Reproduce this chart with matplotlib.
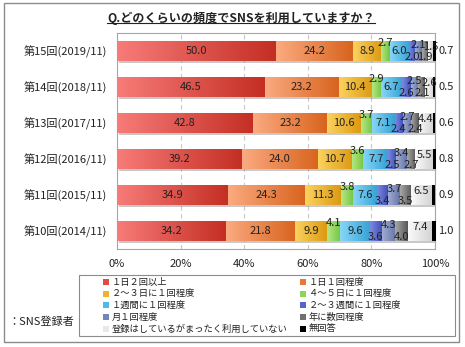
import matplotlib
matplotlib.use('Agg')
import matplotlib.pyplot as plt
import matplotlib.patheffects as pe
from matplotlib.colors import LinearSegmentedColormap
from matplotlib.patches import Rectangle
from matplotlib.lines import Line2D
import numpy as np

plt.rcParams['font.family'] = ['Noto Sans CJK JP', 'DejaVu Sans']

title = 'Q.どのくらいの頻度でSNSを利用していますか？'
rounds = ['第15回(2019/11)', '第14回(2018/11)', '第13回(2017/11)',
          '第12回(2016/11)', '第11回(2015/11)', '第10回(2014/11)']
categories = ['１日２回以上', '１日１回程度', '２～３日に１回程度', '４～５日に１回程度',
              '１週間に１回程度', '２～３週間に１回程度', '月１回程度', '年に数回程度',
              '登録はしているがまったく利用していない', '無回答']

r15 = [50.0, 24.2, 8.9, 2.7, 6.0, 2.0, 2.1, 1.9, 1.5, 0.7]
r14 = [46.5, 23.2, 10.4, 2.9, 6.7, 2.6, 2.5, 2.1, 2.6, 0.5]
r13 = [42.8, 23.2, 10.6, 3.7, 7.1, 2.4, 2.7, 2.4, 4.4, 0.6]
r12 = [39.2, 24.0, 10.7, 3.6, 7.7, 2.5, 3.4, 2.7, 5.5, 0.8]
r11 = [34.9, 24.3, 11.3, 3.8, 7.6, 3.4, 3.7, 3.5, 6.5, 0.9]
r10 = [34.2, 21.8, 9.9, 4.1, 9.6, 3.6, 4.3, 4.0, 7.4, 1.0]
values = [r15, r14, r13, r12, r11, r10]

# gradient (left, right) for each segment, plus a flat colour for the legend
grad_colors = [('#f77b78', '#c42f24'), ('#fbaa80', '#d8641e'), ('#fbd25e', '#dc9a12'),
               ('#b4e880', '#74c443'), ('#86d6f6', '#35a2d6'), ('#7c8ae0', '#4052b8'),
               ('#a0acd4', '#6676a8'), ('#a8a8a8', '#585858'), ('#fafafa', '#d4d4d4'),
               ('#000000', '#000000')]
flat_colors = ['#e04a45', '#e8773a', '#f0b030', '#8fd45a', '#4dbbe8', '#5565c8',
               '#7585b8', '#707070', '#e8e8e8', '#000000']
# vertical shift of the value labels (in bar units, negative = up)
label_shift = [0, 0, 0, -0.22, 0, 0.18, -0.17, 0.18, -0.12, 0]

W, H = 465, 347
fig = plt.figure(figsize=(W / 100, H / 100), dpi=100)


def fx(px):
    return px / W


def fy(py):
    return 1 - py / H


ax = fig.add_axes([fx(117), fy(249), fx(435) - fx(117), fy(33) - fy(249)])

bar_h = 0.55
grad = np.linspace(0, 1, 64).reshape(1, -1)
for i, vals in enumerate(values):
    left = 0
    for j, v in enumerate(vals):
        cmap = LinearSegmentedColormap.from_list('c%d' % j, grad_colors[j])
        bar = ax.barh(i, v, left=left, height=bar_h, color=flat_colors[j], lw=0, zorder=2,
                      path_effects=[pe.SimplePatchShadow(offset=(1.2, -1.8),
                                                         shadow_rgbFace='#888888', alpha=0.45),
                                    pe.Normal()])[0]
        im = ax.imshow(grad, cmap=cmap, extent=[left, left + v, i + bar_h / 2, i - bar_h / 2],
                       aspect='auto', zorder=3, interpolation='bilinear')
        im.set_clip_path(bar)
        if j == len(vals) - 1:
            ax.text(103.5, i, '%.1f' % v, ha='center', va='center', fontsize=8,
                    color='#222222', zorder=5, clip_on=False)
        else:
            ax.text(left + v / 2, i + label_shift[j], '%.1f' % v, ha='center', va='center',
                    fontsize=8, color='#222222', zorder=5)
        left += v

ax.set_xlim(0, 100)
ax.set_ylim(len(rounds) - 0.5, -0.5)
ax.set_xticks(range(0, 101, 20))
ax.set_xticklabels(['%d%%' % t for t in range(0, 101, 20)])
ax.set_yticks(range(len(rounds)))
ax.set_yticklabels(rounds)
ax.tick_params(length=0, labelsize=8, colors='#222222')
ax.tick_params(axis='x', pad=7)
ax.tick_params(axis='y', pad=7)
ax.xaxis.grid(True, ls=(0, (4, 3)), color='#c8c8c8', lw=0.8, zorder=0)
ax.set_axisbelow(True)
for s in ax.spines.values():
    s.set_color('#a6a6a6')
    s.set_linewidth(0.8)

# title with underline
t = fig.text(fx(241), fy(18), title, ha='center', va='center', fontsize=8.7,
             fontweight='bold', color='#222222')
fig.canvas.draw()
bb = t.get_window_extent().transformed(fig.transFigure.inverted())
fig.add_artist(Line2D([bb.x0, bb.x1], [bb.y0 + 0.004, bb.y0 + 0.004],
                      transform=fig.transFigure, color='#222222', lw=0.8))

# legend (drawn by hand to get the tight Excel row spacing)
fig.add_artist(Rectangle((fx(79), fy(336)), fx(455) - fx(79), fy(275) - fy(336),
                         transform=fig.transFigure, fill=False, ec='#8c8c8c', lw=0.8))
col_x = [103, 300]
for k, cat in enumerate(categories):
    x = col_x[k % 2]
    y = 282 + (k // 2) * 11.7
    fig.add_artist(Rectangle((fx(x), fy(y + 3)), 6 / W, 6 / H, transform=fig.transFigure,
                             fc=flat_colors[k], ec='none'))
    fig.text(fx(x + 9), fy(y), cat, ha='left', va='center', fontsize=6.7, color='#222222')

fig.text(fx(8), fy(322), '：SNS登録者', ha='left', va='center', fontsize=8, color='#222222')

# outer border
fig.add_artist(Rectangle((fx(4), fy(342)), fx(459) - fx(4), fy(3) - fy(342),
                         transform=fig.transFigure, fill=False, ec='#8c8c8c', lw=1))

fig.savefig('out.png', dpi=100)
